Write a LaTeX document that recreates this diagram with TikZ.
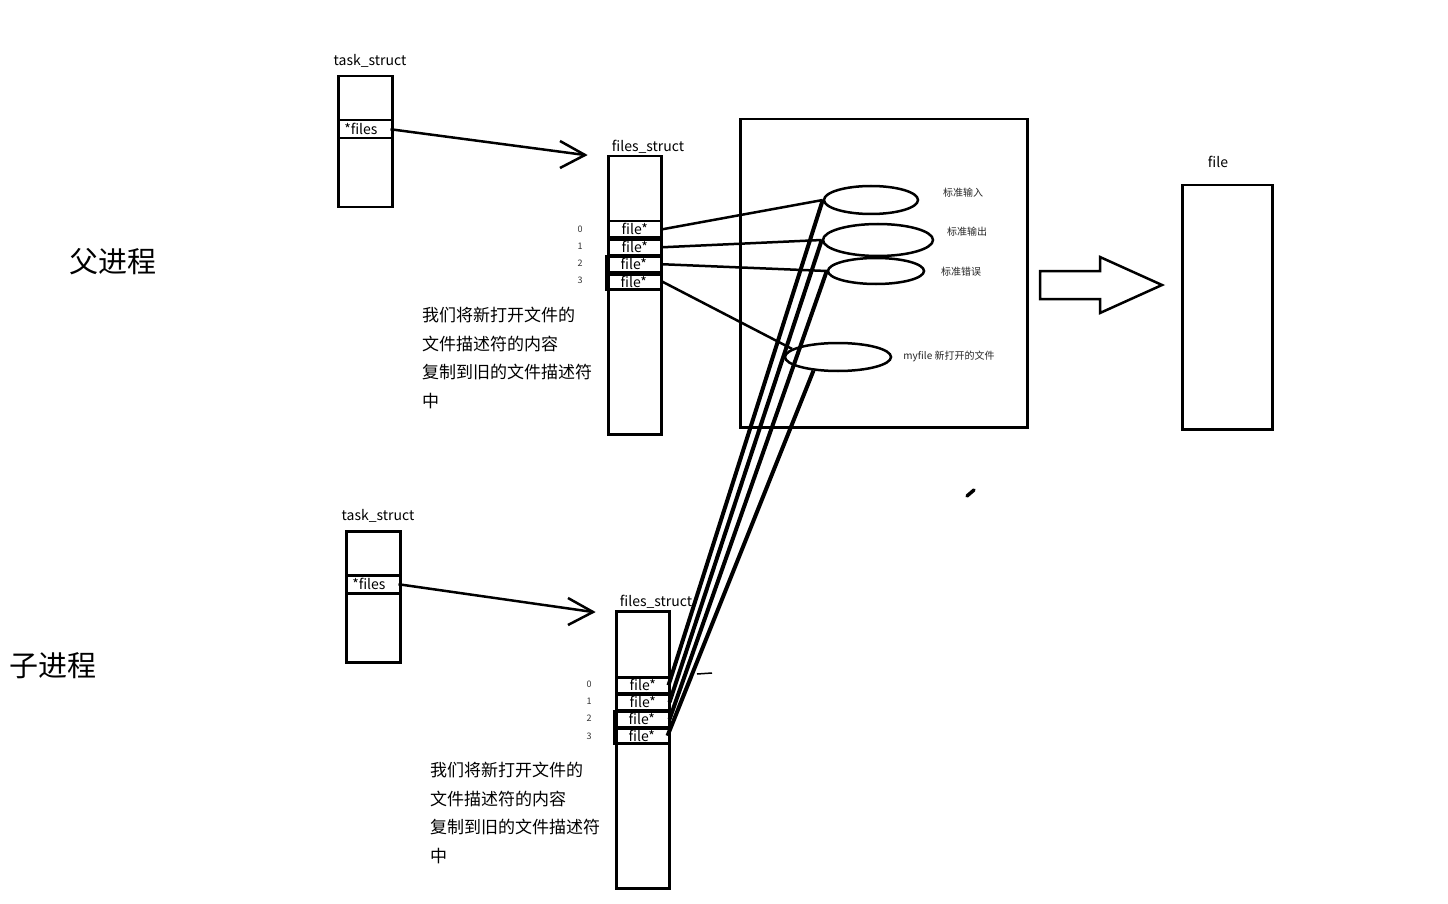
\documentclass[tikz,border=0pt]{standalone}
\usepackage{fontspec}
\setmainfont{Noto Sans CJK SC}
\usetikzlibrary{shapes.geometric}
\tikzset{
  box/.style={draw, line width=2.5pt, inner sep=0pt, anchor=north west},
  slot/.style={draw, line width=2.5pt, inner sep=0pt, anchor=north west, minimum width=53pt, minimum height=16pt, font=\fontsize{14}{14}\selectfont},
  idx/.style={font=\fontsize{9}{9}\selectfont, inner sep=0pt, text=black!80},
  lbl/.style={font=\fontsize{14}{14}\selectfont, inner sep=0pt},
  tag/.style={font=\fontsize{10}{10}\selectfont, inner sep=0pt, text=black!85},
  ell/.style={draw, ellipse, line width=2.5pt, inner sep=0pt},
  note/.style={font=\fontsize{17}{28.5}\selectfont, align=left, anchor=north west, inner sep=0pt},
  big/.style={font=\fontsize{29}{29}\selectfont, inner sep=0pt},
  conn/.style={line width=2.5pt},
  thick conn/.style={line width=4pt},
  ptr/.style={line width=2.5pt},
  vhead/.style={line width=2.5pt, line join=miter}
}
\begin{document}
\begin{tikzpicture}[x=1pt,y=-1pt]
\useasboundingbox (0,0) rectangle (1448,904);
\fill[white] (0,0) rectangle (1448,904);

% big labels
\node[big] (parent) at (113,262) {父进程};
\node[big] (child) at (53,666) {子进程};

% ---------------- parent ----------------
\node[lbl] (ptl) at (370,61) {task\_struct};
\node[box, minimum width=54pt, minimum height=131pt] (pt) at (337,75) {};
\node[box, minimum width=54pt, minimum height=18pt, font=\fontsize{14}{14}\selectfont, align=left, text width=50pt] (pfiles) at (337,119) {\hspace*{4pt}*files};

\node[lbl] (pfl) at (648,147) {files\_struct};
\node[box, minimum width=53pt, minimum height=278pt] (pf) at (607,155) {};
\node[slot] (p0) at (607,220) {file*};
\node[slot] (p1) at (607,238) {file*};
\node[slot, minimum width=55pt] (p2) at (605,255) {file*};
\node[slot, minimum width=55pt, minimum height=15pt] (p3) at (605,273) {file*};
\node[idx] (pi0) at (580,229) {0};
\node[idx] (pi1) at (580,246) {1};
\node[idx] (pi2) at (580,263) {2};
\node[idx] (pi3) at (580,280) {3};

\coordinate (parr) at (585,155);
\draw[ptr] ([xshift=-3pt]pfiles.east) -- (parr);
\draw[vhead] (560,141) -- (parr) -- (560,168);

\node[note] (pnote) at (422,307) {我们将新打开文件的\\文件描述符的内容\\复制到旧的文件描述符\\中};

% ---------------- file table ----------------
\node[box, minimum width=287pt, minimum height=308pt] (tbl) at (739,118) {};
\node[ell, minimum width=94pt, minimum height=28pt] (e0) at (871,200) {};
\node[ell, minimum width=110pt, minimum height=32pt] (e1) at (878,240) {};
\node[ell, minimum width=96pt, minimum height=26pt] (e2) at (876,271) {};
\node[ell, minimum width=106pt, minimum height=28pt] (e3) at (838,357) {};
\node[tag] (t0) at (963,193) {标准输入};
\node[tag] (t1) at (967,232) {标准输出};
\node[tag] (t2) at (961,272) {标准错误};
\node[tag] (t3) at (949,356) {myfile 新打开的文件};

\draw[conn] (p0.east) -- (e0.west);
\draw[conn] (p1.east) -- (e1.west);
\draw[conn] (p2.east) -- (e2.west);
\draw[conn] (p3.east) -- (e3.170);

% big arrow
\draw[line width=2.5pt, line join=miter] (1040,271) -- (1100,271) -- (1100,257) -- (1162,285) -- (1100,313) -- (1100,299) -- (1040,299) -- cycle;

% file box
\node[lbl] (fl) at (1218,162) {file};
\node[box, minimum width=90pt, minimum height=244pt] (fb) at (1181,184) {};

% stray mark
\draw[line width=3.5pt, line cap=round] (967,496) -- (974,490);

% ---------------- child ----------------
\node[lbl] (ctl) at (378,516) {task\_struct};
\node[box, minimum width=54pt, minimum height=131pt] (ct) at (345,530) {};
\node[box, minimum width=54pt, minimum height=18pt, font=\fontsize{14}{14}\selectfont, align=left, text width=50pt] (cfiles) at (345,574) {\hspace*{4pt}*files};

\node[lbl] (cfl) at (656,602) {files\_struct};
\node[box, minimum width=53pt, minimum height=277pt] (cf) at (615,610) {};
\node[slot] (c0) at (615,676) {file*};
\node[slot] (c1) at (615,693) {file*};
\node[slot, minimum width=55pt] (c2) at (613,710) {file*};
\node[slot, minimum width=55pt, minimum height=15pt] (c3) at (613,727) {file*};
\node[idx] (ci0) at (589,684) {0};
\node[idx] (ci1) at (589,701) {1};
\node[idx] (ci2) at (589,718) {2};
\node[idx] (ci3) at (589,736) {3};

\coordinate (carr) at (593,612);
\draw[ptr] ([xshift=-3pt]cfiles.east) -- (carr);
\draw[vhead] (568,598) -- (carr) -- (568,625);

\node[note] (cnote) at (430,762) {我们将新打开文件的\\文件描述符的内容\\复制到旧的文件描述符\\中};

\draw[line width=1.5pt] (697,674) -- (712,673);

% thick connectors from child slots to the shared files
\draw[thick conn] ([xshift=-2pt]c0.east) -- (e0.west);
\draw[thick conn] ([xshift=-1pt]c1.east) -- (e1.west);
\draw[thick conn] ([xshift=-1pt]c2.east) -- (e2.west);
\draw[thick conn] ([xshift=-3pt]c3.east) -- (e3.209);
\end{tikzpicture}
\end{document}
